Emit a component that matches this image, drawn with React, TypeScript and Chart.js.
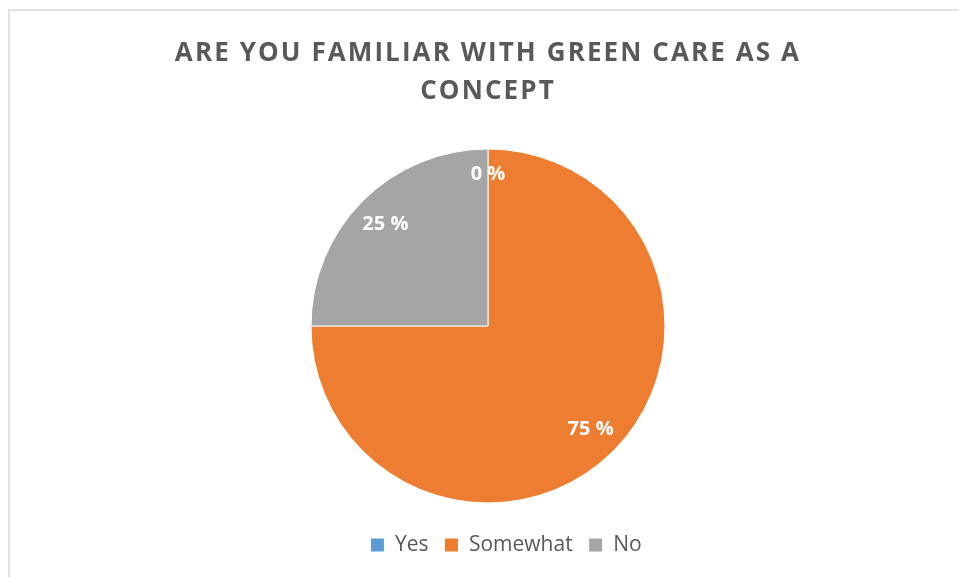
import React, { useEffect, useRef } from "react";
import { Chart, registerables } from "chart.js";

Chart.register(...registerables);

const categories = ["Yes", "Somewhat", "No"];
const values = [0, 75, 25];
const colors = ["#5B9BD5", "#ED7D31", "#A5A5A5"];
const titleLines = ["ARE YOU FAMILIAR WITH GREEN CARE AS A", "CONCEPT"];

const labelPlugin = {
  id: "pieLabels",
  afterDatasetsDraw(chart: any) {
    const ctx = chart.ctx;
    const meta = chart.getDatasetMeta(0);
    ctx.save();
    ctx.font = "bold 20px 'Open Sans'";
    ctx.fillStyle = "#ffffff";
    ctx.textAlign = "center";
    ctx.textBaseline = "middle";
    meta.data.forEach((arc: any, i: number) => {
      const p = arc.getProps(["x", "y", "startAngle", "endAngle", "outerRadius"], true);
      const mid = (p.startAngle + p.endAngle) / 2;
      const f = values[i] === 0 ? 0.86 : 0.82;
      const x = p.x + Math.cos(mid) * p.outerRadius * f;
      const y = p.y + Math.sin(mid) * p.outerRadius * f + 1;
      ctx.fillText(values[i] + " %", x, y);
    });
    ctx.restore();
  },
};

const boxPatchPlugin = {
  id: "boxPatch",
  beforeDraw(chart: any) {
    const tb = chart.titleBlock;
    if (tb && !tb.__patched) {
      const orig = tb.draw.bind(tb);
      tb.draw = (...args: any[]) => {
        const ctx = chart.ctx;
        ctx.save();
        ctx.letterSpacing = "2.1px";
        orig(...args);
        ctx.restore();
      };
      tb.__patched = true;
    }
    const lg = chart.legend;
    if (lg && !lg.__patched) {
      const origL = lg.draw.bind(lg);
      lg.draw = (...args: any[]) => {
        const ctx = chart.ctx;
        ctx.save();
        ctx.translate(18, 0);
        origL(...args);
        ctx.restore();
      };
      lg.__patched = true;
    }
  },
};

export default function App() {
  const ref = useRef<HTMLCanvasElement>(null);
  useEffect(() => {
    if (!ref.current) return;
    const chart = new Chart(ref.current, {
      type: "pie",
      data: {
        labels: categories,
        datasets: [
          {
            data: values,
            backgroundColor: colors,
            borderColor: "#ffffff",
            borderWidth: 1,
            radius: 177,
          },
        ],
      },
      options: {
        animation: false,
        responsive: false,
        layout: { padding: { left: 17, right: 0, top: 0, bottom: 11.5 } },
        plugins: {
          tooltip: { enabled: false },
          title: {
            display: true,
            text: titleLines,
            color: "#595959",
            font: { family: "'Open Sans'", size: 26, weight: "bold", lineHeight: 38 / 26 },
            padding: { top: 35, bottom: 22.5 },
          },
          legend: {
            position: "bottom",
            labels: {
              color: "#595959",
              font: { family: "'Open Sans'", size: 21 },
              boxWidth: 14,
              boxHeight: 14,
              padding: 16,
            },
          },
        },
      },
      plugins: [labelPlugin, boxPatchPlugin],
    });
    return () => chart.destroy();
  }, []);
  return (
    <div style={{ position: "absolute", left: 0, top: 0, width: 959, height: 577, overflow: "hidden", background: "#fff" }}>
      <div
        style={{
          position: "absolute",
          left: 8,
          top: 9,
          width: 980,
          height: 600,
          border: "2px solid #e0e0e0",
        }}
      />
      <canvas ref={ref} width={959} height={577} style={{ position: "absolute", left: 0, top: 0 }} />
    </div>
  );
}
